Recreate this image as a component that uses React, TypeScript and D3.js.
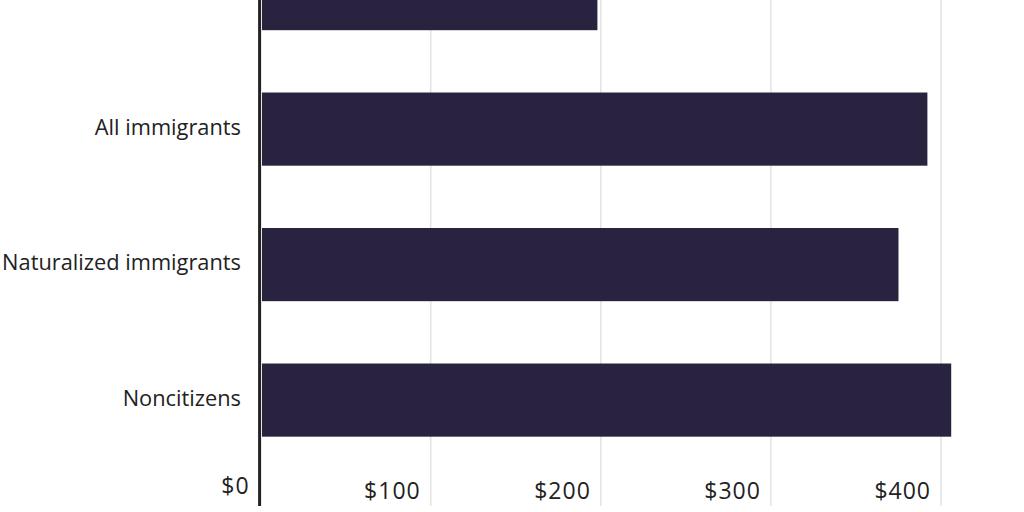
import { useEffect, useRef } from "react";
import * as d3 from "d3";

// Chart data
const categories = ["U.S.-born", "All immigrants", "Naturalized immigrants", "Noncitizens"];
const values = [198, 392, 375, 406];
const tickValues = [0, 100, 200, 300, 400];

const WIDTH = 1024;
const HEIGHT = 512;
const BAR_COLOR = "#29233f";
const FONT = "'Open Sans', 'Liberation Sans', Arial, sans-serif";

export default function App() {
  const ref = useRef<SVGSVGElement>(null);

  useEffect(() => {
    const svg = d3.select(ref.current);
    svg.selectAll("*").remove();

    const x = d3.scaleLinear().domain([0, 100]).range([260.6, 430.7]);
    const y = d3.scaleBand().domain(categories).range([-105.3, 499]).padding(0.46);

    // gridlines
    svg.append("g")
      .selectAll("line")
      .data(tickValues.slice(1))
      .join("line")
      .attr("x1", (d) => x(d))
      .attr("x2", (d) => x(d))
      .attr("y1", 0)
      .attr("y2", 506)
      .attr("stroke", "#e3e3e3")
      .attr("stroke-width", 1.5);

    // bars
    svg.append("g")
      .selectAll("rect")
      .data(values)
      .join("rect")
      .attr("x", x(0) + 1.4)
      .attr("y", (_, i) => y(categories[i])!)
      .attr("width", (d) => x(d) - x(0) - 1.4)
      .attr("height", y.bandwidth())
      .attr("fill", BAR_COLOR);

    // zero axis
    svg.append("line")
      .attr("x1", x(0) - 1)
      .attr("x2", x(0) - 1)
      .attr("y1", 0)
      .attr("y2", 506)
      .attr("stroke", "#222")
      .attr("stroke-width", 3);

    // category labels (the top one sits above the visible area)
    svg.append("g")
      .selectAll("text")
      .data(categories.filter((d) => y(d)! > 0))
      .join("text")
      .text((d) => d)
      .attr("x", 241)
      .attr("y", (d) => y(d)! + y.bandwidth() / 2)
      .attr("dy", "0.25em")
      .attr("text-anchor", "end")
      .attr("font-family", FONT)
      .attr("font-size", 21.8)
      .attr("fill", "#222");

    // tick labels
    svg.append("g")
      .selectAll("text")
      .data(tickValues)
      .join("text")
      .text((d) => "$" + d)
      .attr("x", (d) => (d === 0 ? x(d) - 11 : x(d) - 10))
      .attr("y", (d) => (d === 0 ? 494 : 499))
      .attr("text-anchor", "end")
      .attr("font-family", FONT)
      .attr("font-size", 23)
      .attr("letter-spacing", 1)
      .attr("fill", "#222");
  }, []);

  return (
    <svg
      ref={ref}
      width={WIDTH}
      height={HEIGHT}
      style={{ position: "absolute", left: 0, top: 0, display: "block", background: "#fff" }}
    />
  );
}
